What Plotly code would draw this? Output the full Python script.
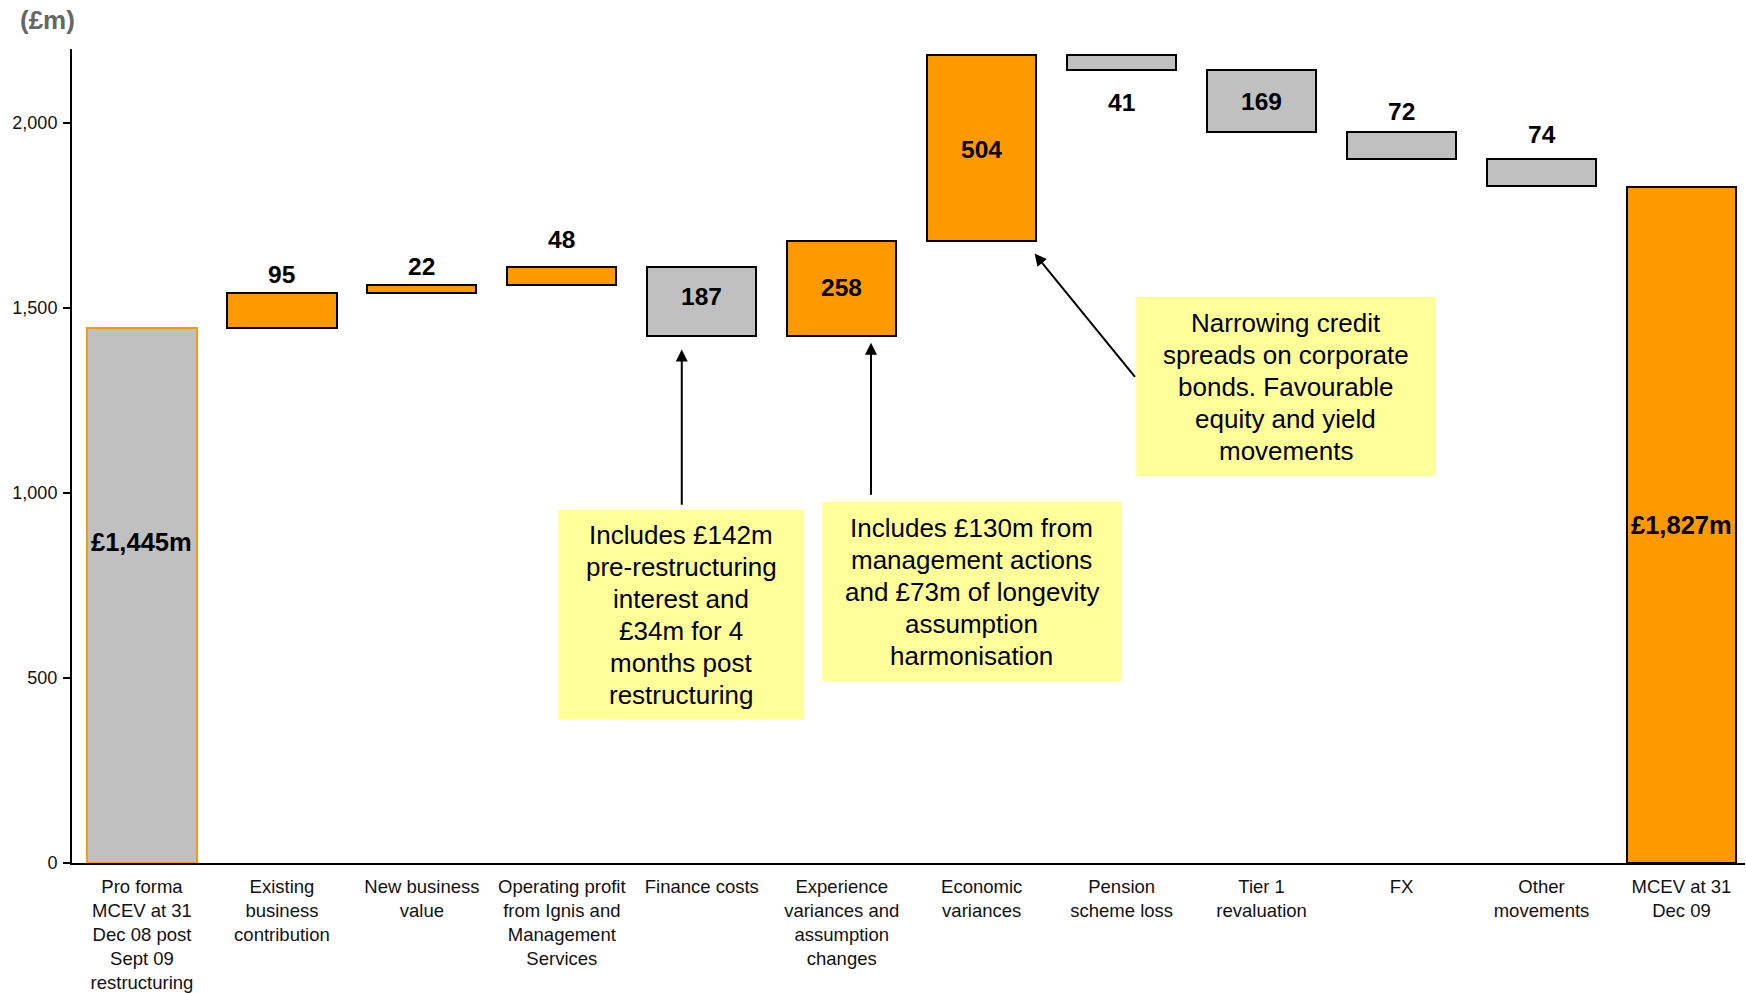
import plotly.graph_objects as go

# MCEV bridge, 31 Dec 08 (pro forma) to 31 Dec 09, in £m
categories = [
    "Pro forma<br>MCEV at 31<br>Dec 08 post<br>Sept 09<br>restructuring",
    "Existing<br>business<br>contribution",
    "New business<br>value",
    "Operating profit<br>from Ignis and<br>Management<br>Services",
    "Finance costs",
    "Experience<br>variances and<br>assumption<br>changes",
    "Economic<br>variances",
    "Pension<br>scheme loss",
    "Tier 1<br>revaluation",
    "FX",
    "Other<br>movements",
    "MCEV at 31<br>Dec 09",
]
opening_value = 1445
movements = [95, 22, 48, -187, 258, 504, -41, -169, -72, -74]
closing_value = 1827

y_ticks = [0, 500, 1000, 1500, 2000]

# where each movement label sits relative to its bar, and its pixel offset
movement_label_pos = ["above", "above", "above", "inside", "inside", "inside",
                      "below", "inside", "above", "above"]
movement_label_shift = [19, 19, 28, 5, 1, -2, -33, -1, 21, 24]

ORANGE = "#FF9900"
GREY = "#C0C0C0"
FONT = "Liberation Sans, Arial, sans-serif"

# build floating bars
bases, heights, fills, outlines = [0], [opening_value], [GREY], [ORANGE]
running = opening_value
for d in movements:
    low = min(running, running + d)
    bases.append(low)
    heights.append(abs(d))
    fills.append(ORANGE if d > 0 else GREY)
    outlines.append("black")
    running += d
bases.append(0)
heights.append(closing_value)
fills.append(ORANGE)
outlines.append("black")

xs = list(range(len(categories)))

fig = go.Figure(go.Bar(
    x=xs, y=heights, base=bases, width=0.78,
    marker=dict(color=fills, line=dict(color=outlines, width=2)),
    hoverinfo="skip",
))

annotations = []
# movement value labels
for i, d in enumerate(movements, start=1):
    lo, hi = bases[i], bases[i] + heights[i]
    pos = movement_label_pos[i - 1]
    y = {"inside": (lo + hi) / 2, "above": hi, "below": lo}[pos]
    annotations.append(dict(x=i, y=y, yshift=movement_label_shift[i - 1],
                            text=f"<b>{abs(d)}</b>",
                            showarrow=False, xref="x", yref="y",
                            font=dict(size=24.5, color="black", family=FONT)))

# opening / closing totals
annotations.append(dict(x=0, y=opening_value * 0.6, text=f"<b>£{opening_value:,}m</b>",
                        showarrow=False, font=dict(size=25.5, color="black", family=FONT)))
annotations.append(dict(x=len(categories) - 1, y=closing_value * 0.5,
                        text=f"<b>£{closing_value:,}m</b>",
                        showarrow=False, font=dict(size=25.5, color="black", family=FONT)))

# callout boxes: corners, text centre, lines
boxes = [
    ((2.975, 387), (4.732, 955), (3.854, 671),
     ["Includes £142m", "pre-restructuring", "interest and", "£34m for 4",
      "months post", "restructuring"]),
    ((4.861, 491), (6.996, 976.5), (5.929, 733),
     ["Includes £130m from", "management actions", "and £73m of longevity",
      "assumption", "harmonisation"]),
    ((7.104, 1045), (9.239, 1530.5), (8.171, 1287),
     ["Narrowing credit", "spreads on corporate", "bonds. Favourable",
      "equity and yield", "movements"]),
]
LINE_STEP = 32
shapes = []
for (x0, y0), (x1, y1), (cx, cy), lines in boxes:
    shapes.append(dict(type="rect", xref="x", yref="y", x0=x0, x1=x1, y0=y0, y1=y1,
                       fillcolor="#FFFF99", line=dict(width=0), layer="above"))
    n = len(lines)
    for k, line in enumerate(lines):
        annotations.append(dict(x=cx, y=cy, yshift=((n - 1) / 2 - k) * LINE_STEP,
                                text=line, showarrow=False, xref="x", yref="y",
                                font=dict(size=26, color="black", family=FONT)))

# arrows from callouts to bars
arrows = [((3.857, 964), (3.857, 1388)),
          ((5.209, 991), (5.209, 1406)),
          ((7.104, 1310), (6.378, 1647))]
for (tx, ty), (hx, hy) in arrows:
    annotations.append(dict(x=hx, y=hy, ax=tx, ay=ty, xref="x", yref="y",
                            axref="x", ayref="y", text="", showarrow=True,
                            arrowhead=2, arrowsize=1.2, arrowwidth=2, arrowcolor="black"))

# unit label
annotations.append(dict(x=(47 - 72) / 1673, y=1 + (49 - 20) / 814,
                        xref="paper", yref="paper", text="<b>(£m)</b>",
                        xanchor="center", yanchor="middle", showarrow=False,
                        font=dict(size=26, color="#666666", family=FONT)))

fig.update_layout(
    width=1746, height=993,
    margin=dict(l=72, r=1, t=49, b=130),
    paper_bgcolor="white", plot_bgcolor="white",
    showlegend=False,
    bargap=0,
    font=dict(family=FONT, color="black"),
    annotations=annotations,
    shapes=shapes,
    xaxis=dict(
        range=[-0.5, 11.454], tickvals=xs, ticktext=categories,
        showline=True, linecolor="black", linewidth=2,
        ticks="", showgrid=False, zeroline=False,
        ticklabelstandoff=6,
        tickfont=dict(size=18.5, color="#111111", family=FONT),
    ),
    yaxis=dict(
        range=[0, 2200], tickvals=y_ticks, tickformat=",d",
        showline=True, linecolor="black", linewidth=2,
        ticks="outside", ticklen=7, tickwidth=2, tickcolor="black",
        showgrid=False, zeroline=False,
        ticklabelstandoff=2,
        tickfont=dict(size=18, color="#111111", family=FONT),
    ),
)

fig.write_html("out.html")
